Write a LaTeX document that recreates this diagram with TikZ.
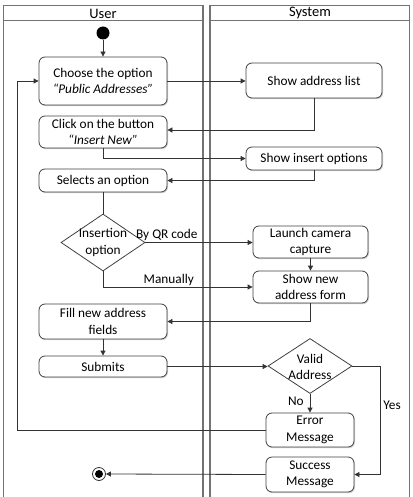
\documentclass[tikz,border=0pt]{standalone}
\usepackage{fontspec}
\setmainfont{Carlito}
\usetikzlibrary{arrows.meta,shapes.geometric,shadows,calc}
\begin{document}
\begin{tikzpicture}[x=1pt,y=-1pt,
  font=\fontsize{13.3}{16.5}\selectfont,
  lane/.style={draw=black!55,line width=1.1pt},
  act/.style={draw=black!75,line width=0.8pt,rounded corners=6pt,fill=white,align=center,inner sep=0pt,
    drop shadow={shadow xshift=1pt,shadow yshift=-1.2pt,fill=black!35}},
  dec/.style={draw=black!75,line width=0.8pt,diamond,fill=white,align=center,inner sep=0pt},
  dectext/.style={align=center,inner sep=0pt},
  flow/.style={draw=black!80,line width=0.8pt,-{Triangle[width=5pt,length=5pt]}},
  plain/.style={draw=black!80,line width=0.8pt},
  lbl/.style={inner sep=1pt},
  head/.style={font=\fontsize{14.5}{17}\selectfont}]
\useasboundingbox (0,0) rectangle (412,497);
% lanes
\draw[lane] (3.5,497) -- (3.5,5.5) -- (203,5.5) -- (203,497);
\draw[lane] (3.5,20.5) -- (203,20.5);
\draw[lane] (210,497) -- (210,5.5) -- (409.5,5.5) -- (409.5,497);
\draw[lane] (210,20.5) -- (409.5,20.5);
\node[head] (hu) at (103,13.5) {User};
\node[head] (hs) at (310,13) {System};
% nodes
\node[circle,fill=black,minimum size=13pt,inner sep=0pt] (start) at (103,33) {};
\node[act,minimum width=128pt,minimum height=48pt] (choose) at (103,81) {Choose the option\\\textit{“Public Addresses”}};
\node[act,minimum width=128pt,minimum height=32pt] (click) at (103,132) {Click on the button\\\textit{“Insert New”}};
\node[act,minimum width=136pt,minimum height=35pt] (addr) at (314,80.5) {Show address list};
\node[act,minimum width=136pt,minimum height=23pt] (ins) at (314,158.5) {Show insert options};
\node[act,minimum width=128pt,minimum height=23pt] (sel) at (103,180.5) {Selects an option};
\node[dec,minimum width=84pt,minimum height=57pt] (idec) at (103,242.5) {};
\node[dectext] (idect) at (103,242.5) {Insertion\\option};
\node[act,minimum width=115pt,minimum height=32pt] (launch) at (310.5,242) {Launch camera\\capture};
\node[act,minimum width=115pt,minimum height=32pt] (form) at (310.5,287) {Show new\\address form};
\node[act,minimum width=128pt,minimum height=35pt] (fill) at (103,321.5) {Fill new address\\fields};
\node[act,minimum width=128pt,minimum height=21pt] (sub) at (103,366.5) {Submits};
\node[dec,minimum width=84pt,minimum height=55pt] (vdec) at (310,366) {};
\node[dectext] (vdect) at (310,367) {Valid\\Address};
\node[act,minimum width=88pt,minimum height=34pt] (err) at (310,430) {Error\\Message};
\node[act,minimum width=88pt,minimum height=35pt] (succ) at (310,474.5) {Success\\Message};
\node[circle,draw=black!80,line width=0.8pt,minimum size=13pt,inner sep=0pt] (end) at (99,474) {};
\node[circle,fill=black,minimum size=8pt,inner sep=0pt] (endin) at (99,474) {};
\coordinate (loopx) at (17,0);
\coordinate (yesx) at (380,0);
% connectors
\draw[flow] (start) -- (choose.north);
\draw[flow] (choose.east) -- (choose.east -| addr.west);
\draw[flow] (addr.south) |- ($(click.east)+(0,-2)$);
\draw[flow] (click.south) |- (ins.west);
\draw[flow] (ins.south) |- (sel.east);
\draw[plain] (sel.south) -- (idec.north);
\draw[flow] (idec.east) -- (idec.east -| launch.west) node[lbl,pos=0.2,above] {By QR code};
\draw[flow] (launch.south) -- (form.north);
\draw[flow] (idec.south) |- (form.west) node[lbl,pos=0.72,above] {Manually};
\draw[flow] (form.south) |- (fill.east);
\draw[flow] (fill.south) -- (sub.north);
\draw[flow] (sub.east) -- (sub.east -| vdec.west);
\draw[flow] (vdec.south) -- (err.north) node[lbl,pos=0.4,left=5pt] {No};
\draw[flow] (vdec.east) -- (vdec.east -| yesx) |- (succ.east) node[lbl,pos=0.18,right=2pt] {Yes};
\draw[flow] (err.west) -- (err.west -| loopx) |- (choose.west);
\draw[flow] (succ.west) -- (end.east);
\end{tikzpicture}
\end{document}
